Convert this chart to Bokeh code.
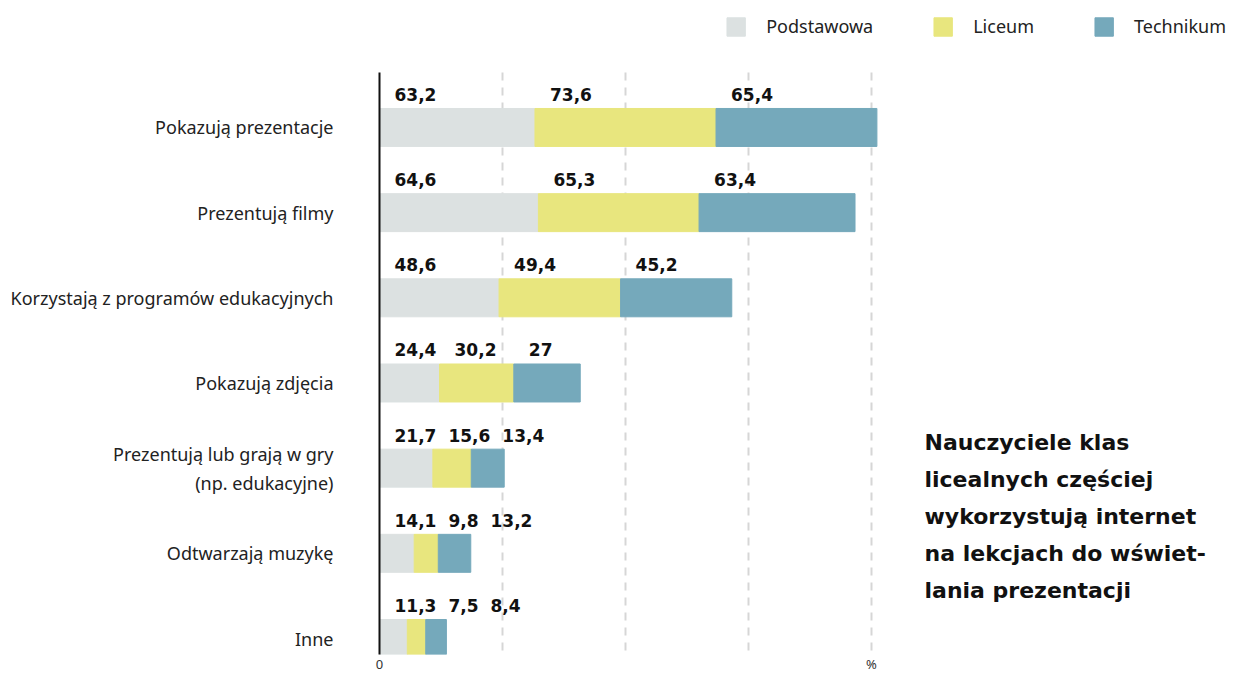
from bokeh.plotting import figure
from bokeh.models import ColumnDataSource, Range1d, FixedTicker
from bokeh.core.properties import value
from bokeh.embed import file_html
from bokeh.resources import INLINE

# ---- data ----
categories = [
    "Pokazują prezentacje",
    "Prezentują filmy",
    "Korzystają z programów edukacyjnych",
    "Pokazują zdjęcia",
    "Prezentują lub grają w gry\n(np. edukacyjne)",
    "Odtwarzają muzykę",
    "Inne",
]
podstawowa = [63.2, 64.6, 48.6, 24.4, 21.7, 14.1, 11.3]
liceum = [73.6, 65.3, 49.4, 30.2, 15.6, 9.8, 7.5]
technikum = [65.4, 63.4, 45.2, 27.0, 13.4, 13.2, 8.4]
series_names = ["Podstawowa", "Liceum", "Technikum"]
colors = ["#dce1e1", "#e8e67e", "#75a9bb"]
x_ticks = [0, 200]
x_tick_labels = ["0", "%"]
grid_values = [50, 100, 150, 200]
note_lines = [
    "Nauczyciele klas",
    "licealnych częściej",
    "wykorzystują internet",
    "na lekcjach do wświet-",
    "lania prezentacji",
]

# ---- layout constants (screen geometry) ----
PX_PER_UNIT = 2.46        # x pixels per percent
ROW_PX = 85.2             # pixels per category row
W, H = 1226, 675
LEFT = 379
TOP = 14
FRAME_BOTTOM = 654        # bottom of plotting frame (px)

n = len(categories)
ys = list(range(n))

x_end = (W - LEFT) / PX_PER_UNIT
y_top = -(127 - TOP) / ROW_PX
y_bottom = (n - 1) + (FRAME_BOTTOM - 638) / ROW_PX
axis_top = -(127 - 72) / ROW_PX
axis_bottom = (n - 1) + (672 - 638) / ROW_PX

p = figure(
    width=W, height=H,
    x_range=Range1d(0, x_end),
    y_range=Range1d(y_bottom, y_top),
    output_backend="svg", toolbar_location=None,
    min_border_left=LEFT, min_border_right=0, min_border_top=TOP, min_border_bottom=0,
)
p.outline_line_color = None
p.xgrid.visible = False
p.ygrid.visible = False

# dashed grid lines
p.segment(x0=grid_values, x1=grid_values,
          y0=[axis_top] * len(grid_values), y1=[axis_bottom] * len(grid_values),
          line_color="#d6d6d6", line_width=2, line_dash="8 7")

src = ColumnDataSource(dict(y=ys, p=podstawowa, l=liceum, t=technikum))
p.hbar_stack(["p", "l", "t"], y="y", height=0.446, color=colors,
             source=src, legend_label=series_names)

# value labels above the bars
lab_x, lab_y, lab_t = [], [], []
digit_px, comma_px, offset_px, gap_px = 11.8, 6.5, 15, 12
for i in range(n):
    vals = [podstawowa[i], liceum[i], technikum[i]]
    start = 0.0
    prev_end = -1e9
    for v in vals:
        s = f"{v:g}".replace(".", ",")
        w_px = sum(comma_px if ch == "," else digit_px for ch in s)
        x = max(start + offset_px / PX_PER_UNIT, prev_end + gap_px / PX_PER_UNIT)
        lab_x.append(x)
        lab_y.append(i - 33 / ROW_PX)
        lab_t.append(s)
        prev_end = x + w_px / PX_PER_UNIT
        start += v
p.text(x=lab_x, y=lab_y, text=lab_t, text_font=value("DejaVu Sans"),
       text_font_style="bold", text_font_size="17px", text_color="#111111",
       text_baseline="alphabetic", text_align="left")

# note on the right
note_x = (924 - LEFT) / PX_PER_UNIT
note_y = [(442 - 127 + 37 * k) / ROW_PX for k in range(len(note_lines))]
p.text(x=[note_x] * len(note_lines), y=note_y, text=note_lines,
       text_font=value("DejaVu Sans"), text_font_style="bold",
       text_font_size="22px", text_color="#111111",
       text_baseline="alphabetic", text_align="left")

# y axis (categories)
p.yaxis.ticker = FixedTicker(ticks=ys)
p.yaxis.major_label_overrides = {i: c for i, c in enumerate(categories)}
p.yaxis.minor_tick_line_color = None
p.yaxis.major_tick_line_color = None
p.yaxis.major_tick_in = 0
p.yaxis.major_tick_out = 0
p.yaxis.axis_line_color = "#111111"
p.yaxis.axis_line_width = 2
p.yaxis.bounds = (axis_top, axis_bottom)
p.yaxis.major_label_standoff = 46
p.yaxis.major_label_text_font = "Noto Sans"
p.yaxis.major_label_text_font_size = "18px"
p.yaxis.major_label_text_color = "#222222"

# x axis
p.xaxis.ticker = FixedTicker(ticks=x_ticks)
p.xaxis.major_label_overrides = {t: l for t, l in zip(x_ticks, x_tick_labels)}
p.xaxis.axis_line_color = None
p.xaxis.major_tick_line_color = None
p.xaxis.minor_tick_line_color = None
p.xaxis.major_tick_in = 0
p.xaxis.major_tick_out = 0
p.xaxis.major_label_standoff = 0
p.xaxis.major_label_text_font = "Noto Sans"
p.xaxis.major_label_text_font_size = "13px"
p.xaxis.major_label_text_color = "#333333"

# legend
lg = p.legend[0]
lg.location = "top_right"
lg.orientation = "horizontal"
lg.glyph_width = 23
lg.glyph_height = 23
lg.label_standoff = 19
lg.spacing = 58
lg.padding = 0
lg.margin = 0
lg.border_line_color = None
lg.background_fill_alpha = 0
lg.label_text_font = "Noto Sans"
lg.label_text_font_size = "18px"
lg.label_text_color = "#222222"

open("out.html", "w").write(file_html(p, INLINE))
